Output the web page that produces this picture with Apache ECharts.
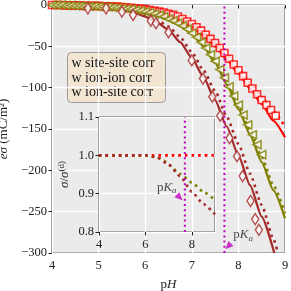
<!DOCTYPE html>
<html><head><meta charset="utf-8">
<script src="https://cdn.jsdelivr.net/npm/echarts@6/dist/echarts.min.js"></script>
<style>html,body{margin:0;padding:0;background:#fff}#c{width:291px;height:291px}</style>
</head><body><div id="c"></div>
<script>
// ---------- data ----------
const legendLabels = ['w site-site corr', 'w ion-ion corr', 'w ion-site corr'];
const pKa = 7.7;
// red (squares) simulation points
const redSqX = [4.0,4.1,4.2,4.3,4.4,4.5,4.6,4.7,4.8,4.9,5.0,5.1,5.2,5.3,5.4,5.5,5.6,5.7,5.8,5.9,6.0,6.1,6.2,6.3,6.4,6.5,6.6,6.7,6.8,6.9,7.0,7.1,7.2,7.3,7.4,7.5,7.6,7.7,7.8,7.9,8.0,8.1,8.2,8.3,8.4,8.5,8.6,8.7,8.8];
const redSqY = [0,0,0,-0.5,-0.5,-0.5,-0.5,-1,-1,-1,-1,-1.5,-1.5,-2,-2,-2.5,-3,-3.5,-4,-4.5,-5,-6,-7,-8,-9,-10.5,-12,-14,-17,-20,-23,-27,-31,-36,-41,-46,-52,-58,-65,-72,-79,-86,-94,-101,-108,-115,-121,-127,-134];
// olive (left triangles)
const oliveTrX = [4.0,4.1,4.2,4.3,4.4,4.5,4.6,4.7,4.8,4.9,5.0,5.1,5.2,5.3,5.4,5.5,5.6,5.7,5.8,5.9,6.0,6.1,6.2,6.3,6.4,6.5,6.6,6.7,6.8,6.9,7.0,7.1,7.2,7.3,7.4,7.5,7.6,7.7,7.8,7.9,8.0,8.1,8.2,8.3,8.4,8.5];
const oliveTrY = [0,0,0,-0.5,-0.5,-1,-1,-1,-1.5,-1.5,-2,-2,-2.5,-3,-3.5,-4,-4.5,-5,-6,-7,-8,-9,-10.5,-12,-14,-17,-19,-22,-25,-29,-34,-39,-45,-52,-60,-68,-78,-88,-99,-110,-121,-133,-145,-157,-169,-181];
// brown (diamonds)
const brownDmX = [4.77,5.16,5.50,5.74,6.12,6.23,6.50,7.00,7.24,7.44,7.61,7.81,7.97,8.09,8.26,8.36,8.44];
const brownDmY = [-4,-4,-8,-12,-19,-22,-33,-67,-89,-111,-134,-161,-183,-207,-237,-259,-272];
// theory curves (solid and dotted)
const redLineX = [4,4.25,4.5,4.75,5,5.25,5.5,5.75,6,6.25,6.5,6.75,7,7.25,7.5,7.75,8,8.25,8.5,8.75,9];
const redLineY = [0,-0.3,-0.5,-0.8,-1,-1.8,-2.5,-4,-5.5,-8,-12,-18,-26,-37,-50,-66,-83,-101,-120,-140,-160];
const redDotX = [4,4.5,5,5.5,6,6.25,6.5,6.75,7,7.25,7.5,7.75,8,8.25,8.5,8.75,9];
const redDotY = [0,-0.5,-1,-2.3,-5,-7.5,-11,-17,-24,-34,-46,-61,-77,-94,-111,-129,-147];
const oliveLineX = [4,4.5,5,5.25,5.5,5.75,6,6.25,6.5,6.75,7,7.25,7.5,7.75,8,8.25,8.5,8.75,9];
const oliveLineY = [0,-1,-2,-2.8,-4,-5.8,-8,-12,-17,-25,-35,-50,-70,-96,-126,-157,-190,-224,-258];
const oliveDotX = [4,4.5,5,5.5,6,6.25,6.5,6.75,7,7.25,7.5,7.75,8,8.25,8.5,8.75,9];
const oliveDotY = [0,-1,-2,-3.7,-7.5,-11,-16,-23.5,-33,-48,-67,-92,-121,-152,-184,-218,-252];
const brownLineX = [4,4.5,5,5.25,5.5,5.75,6,6.25,6.5,6.75,7,7.25,7.5,7.75,8,8.25,8.5,8.77];
const brownLineY = [-0.5,-1,-2.5,-4,-6,-9,-14,-21,-30,-45,-64,-87,-115,-147,-182,-218,-256,-300];
const brownDotX = [4,4.5,5,5.5,5.75,6,6.25,6.5,6.75,7,7.25,7.5,7.75,8,8.25,8.5,8.75,8.85];
const brownDotY = [0,-1,-2,-5,-8,-12,-18,-26,-39,-57,-79,-104,-135,-168,-204,-242,-283,-300];
// inset: sigma / sigma^(d)
const insRedX = [4,9];
const insRedY = [1.0,1.0];
const insOliveX = [4,5,6,6.5,6.8,7,7.5,8,8.5,9];
const insOliveY = [1.0,1.0,1.0,0.995,0.986,0.975,0.952,0.929,0.905,0.883];
const insBrownX = [4,5,6,6.5,7,7.5,8,8.5,9];
const insBrownY = [1.0,1.0,1.0,0.995,0.976,0.945,0.905,0.873,0.846];
// ticks
const mainXTicks = [4,5,6,7,8,9];
const mainYTicks = [0,-50,-100,-150,-200,-250,-300];
const insXTicks = [4,6,8];
const insYTicks = [0.8,0.9,1.0,1.1];
// annotations
const annMainText = [8.1,-278], annMainHead = [7.78,-292];
const annInsText = [6.92,0.917], annInsHead = [7.48,0.89];

// ---------- chart ----------
const RED='#ff0000', OLIVE='#808000', BROWN='#a52a2a', MAG='#bf00bf';
const SERIF='"Liberation Serif", "DejaVu Serif", serif';
const zip=(a,b)=>a.map((v,i)=>[v,b[i]]);
const minus=v=>String(v).replace('-','\u2212');
const dotted=[2.6,4];
function lineS(x,y,color,dot,xi,z){
  return {type:'line',xAxisIndex:xi,yAxisIndex:xi,data:zip(x,y),smooth:0.2,smoothMonotone:'x',
    symbol:'none',silent:true,z:z,
    lineStyle:{color:color,width:dot?2.6:2.2,type:dot?dotted:'solid',cap:'butt'}};
}
const rich={r:{fontFamily:SERIF,fontSize:13,color:'#222'},i:{fontFamily:SERIF,fontSize:13,fontStyle:'italic',color:'#222'},
  s:{fontFamily:SERIF,fontSize:9,fontStyle:'italic',color:'#222',padding:[7,0,0,0]},
  sup:{fontFamily:SERIF,fontSize:9,color:'#222',padding:[0,0,7,0]}};
const axisCommon={axisLine:{show:false},axisTick:{show:true,length:3.5,lineStyle:{color:'#222',width:1}},
  splitLine:{show:true,lineStyle:{color:'#ffffff',width:1.3}},
  axisLabel:{fontFamily:SERIF,fontSize:12.5,color:'#222'}};

const chart=echarts.init(document.getElementById('c'),null,{renderer:'canvas'});
chart.setOption({
  animation:false,
  backgroundColor:'#ffffff',
  grid:[
    {left:52,top:5,width:233,height:248,containLabel:false,outerBoundsMode:'none',show:true,backgroundColor:'#ebebeb',borderColor:'#333',borderWidth:1,z:0},
    {left:99,top:117,width:116,height:115,containLabel:false,outerBoundsMode:'none',show:true,backgroundColor:'#ebebeb',borderColor:'#222',borderWidth:1,z:5}
  ],
  xAxis:[
    Object.assign({},axisCommon,{gridIndex:0,type:'value',min:mainXTicks[0],max:mainXTicks[mainXTicks.length-1],interval:1,
      name:'{r|p}{i|H}',nameLocation:'middle',nameGap:25,nameTextStyle:{rich:rich},
      axisLabel:Object.assign({},axisCommon.axisLabel,{margin:6})}),
    Object.assign({},axisCommon,{gridIndex:1,type:'value',min:insXTicks[0],max:9,interval:2,z:6,
      axisLabel:Object.assign({},axisCommon.axisLabel,{margin:6,showMaxLabel:false})})
  ],
  yAxis:[
    Object.assign({},axisCommon,{gridIndex:0,type:'value',min:mainYTicks[mainYTicks.length-1],max:mainYTicks[0],interval:50,
      name:'{i|e\u03c3} {r|(mC/m\u00b2)}',nameLocation:'middle',nameRotate:90,nameGap:36,nameTextStyle:{rich:rich},
      axisLabel:Object.assign({},axisCommon.axisLabel,{margin:5,formatter:v=>minus(v)})}),
    Object.assign({},axisCommon,{gridIndex:1,type:'value',min:insYTicks[0],max:insYTicks[insYTicks.length-1],interval:0.1,z:6,
      name:'{i|\u03c3}{r|/}{i|\u03c3}{sup|(d)}',nameLocation:'middle',nameRotate:90,nameGap:26,nameTextStyle:{rich:rich},
      axisLabel:Object.assign({},axisCommon.axisLabel,{margin:5,formatter:v=>v.toFixed(1)})})
  ],
  graphic:[{type:'group',left:67,top:52,z:50,children:[
    {type:'rect',shape:{x:0,y:0,width:98,height:50,r:4},style:{fill:'#f2e5d2',stroke:'#9a9a9a',lineWidth:1}},
    ...legendLabels.map((t,i)=>({type:'text',x:4,y:4+i*14.5,style:{text:t,fontFamily:SERIF,fontSize:14,fill:'#111'}}))
  ]}],
  series:[
    lineS(redLineX,redLineY,RED,false,0,2),
    lineS(redDotX,redDotY,RED,true,0,2),
    lineS(oliveLineX,oliveLineY,OLIVE,false,0,2),
    lineS(oliveDotX,oliveDotY,OLIVE,true,0,2),
    lineS(brownLineX,brownLineY,BROWN,false,0,2),
    lineS(brownDotX,brownDotY,BROWN,true,0,2),
    {type:'scatter',xAxisIndex:0,yAxisIndex:0,data:zip(redSqX,redSqY),symbol:'rect',symbolSize:7,z:3,
      itemStyle:{color:'#fff',borderColor:RED,borderWidth:1.6}},
    {type:'scatter',xAxisIndex:0,yAxisIndex:0,data:zip(oliveTrX,oliveTrY),symbol:'triangle',symbolSize:[8,8],symbolRotate:90,z:3,
      itemStyle:{color:'#fff',borderColor:OLIVE,borderWidth:1.6}},
    {type:'scatter',xAxisIndex:0,yAxisIndex:0,data:zip(brownDmX,brownDmY),symbol:'diamond',symbolSize:[7,11],z:3,
      itemStyle:{color:'#fff',borderColor:BROWN,borderWidth:1.5}},
    {type:'line',xAxisIndex:0,yAxisIndex:0,data:[[pKa,mainYTicks[mainYTicks.length-1]],[pKa,mainYTicks[0]]],symbol:'none',z:4,
      lineStyle:{color:MAG,width:2,type:[2,3.2],cap:'butt'}},
    {type:'scatter',xAxisIndex:0,yAxisIndex:0,data:[annMainHead],symbol:'triangle',symbolSize:[7,8],symbolRotate:135,z:5,
      itemStyle:{color:MAG}},
    {type:'scatter',xAxisIndex:0,yAxisIndex:0,data:[annMainText],symbolSize:0,z:5,
      label:{show:true,position:'inside',formatter:'{r|p}{i|K}{s|a}',rich:rich}},
    // inset
    lineS(insRedX,insRedY,RED,true,1,8),
    lineS(insOliveX,insOliveY,OLIVE,true,1,8),
    lineS(insBrownX,insBrownY,BROWN,true,1,8),
    {type:'line',xAxisIndex:1,yAxisIndex:1,data:[[pKa,insYTicks[0]],[pKa,insYTicks[insYTicks.length-1]]],symbol:'none',z:9,
      lineStyle:{color:MAG,width:2,type:[2,3.2],cap:'butt'}},
    {type:'scatter',xAxisIndex:1,yAxisIndex:1,data:[annInsHead],symbol:'triangle',symbolSize:[7,8],symbolRotate:-135,z:9,
      itemStyle:{color:MAG}},
    {type:'scatter',xAxisIndex:1,yAxisIndex:1,data:[annInsText],symbolSize:0,z:9,
      label:{show:true,position:'inside',formatter:'{r|p}{i|K}{s|a}',rich:rich}}
  ]
});
</script></body></html>
